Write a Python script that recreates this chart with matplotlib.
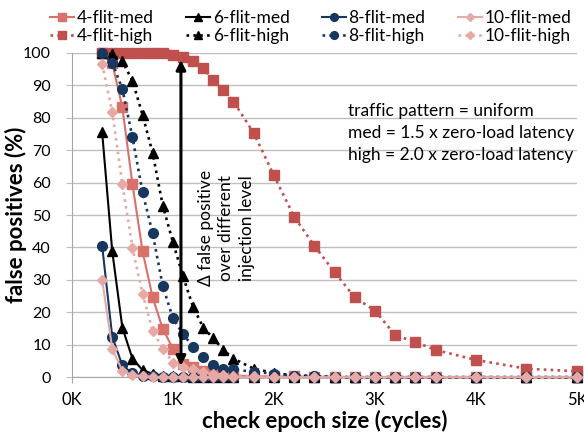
import matplotlib.pyplot as plt
from matplotlib.ticker import FuncFormatter

plt.rcParams['font.family'] = ['Lato', 'DejaVu Sans']

# check epoch size (cycles)
epoch = [300, 400, 500, 600, 700, 800, 900, 1000, 1100, 1200, 1300, 1400, 1500, 1600,
         1800, 2000, 2200, 2400, 2600, 2800, 3000, 3200, 3400, 3600, 4000, 4500, 5000]

# false positives (%)
fp_4_med = [100, 96.9, 83.2, 59.5, 38.8, 24.6, 14.9, 8.8, 3.9, 3.2, 1.9, 1.1, 0.8, 0.5,
            0.3, 0.2, 0.2, 0.1, 0.1, 0, 0, 0, 0, 0, 0, 0, 0]
fp_4_high = [100, 100, 100, 100, 100, 100, 100, 99.3, 98.6, 97.6, 95.3, 91.6, 88.7, 85,
             75.3, 62.2, 49.5, 40.5, 32.4, 24.6, 20.5, 13.0, 10.8, 8.4, 5.3, 2.6, 1.8]
fp_6_med = [75.5, 38.8, 15.3, 5.7, 2.2, 1.0, 0.5, 0.3, 0.2, 0.1, 0, 0, 0, 0,
            0, 0, 0, 0, 0, 0, 0, 0, 0, 0, 0, 0, 0]
fp_6_high = [100, 99.5, 97.4, 91.4, 80.9, 69.1, 52.9, 41.7, 31.1, 21.7, 15.3, 12.0, 8.4, 5.7,
             2.6, 1.3, 0.5, 0.3, 0, 0, 0, 0, 0, 0, 0, 0, 0]
fp_8_med = [40.5, 12.5, 3.6, 1.2, 0.5, 0.2, 0.1, 0, 0, 0, 0, 0, 0, 0,
            0, 0, 0, 0, 0, 0, 0, 0, 0, 0, 0, 0, 0]
fp_8_high = [100, 97, 88.9, 74.0, 57.0, 44.3, 28.1, 18.2, 13.3, 9.4, 6.3, 3.6, 2.6, 2.4,
             1.6, 1.1, 0.5, 0.3, 0, 0, 0, 0, 0, 0, 0, 0, 0]
fp_10_med = [30.1, 8.8, 1.9, 0.7, 0.3, 0.1, 0, 0, 0, 0, 0, 0, 0, 0,
             0, 0, 0, 0, 0, 0, 0, 0, 0, 0, 0, 0, 0]
fp_10_high = [96.6, 81.8, 59.5, 39.9, 25.7, 14.3, 8.8, 4.5, 3.2, 2.4, 1.7, 1.1, 0.8, 0.5,
              0.3, 0.1, 0, 0, 0, 0, 0, 0, 0, 0, 0, 0, 0]

fig = plt.figure(figsize=(5.84, 4.37), dpi=100)
ax = fig.add_axes([0.123, 0.137, 0.865, 0.742])

c4m = '#D9706A'
c4h = '#C0504D'
c6 = '#000000'
c8 = '#17375E'
c10 = '#E6A9A5'

# (label, data, color, marker, size, linestyle)
series = [
    ('4-flit-med', fp_4_med, c4m, 's', 7, '-'),
    ('4-flit-high', fp_4_high, c4h, 's', 7, ':'),
    ('6-flit-med', fp_6_med, c6, '^', 7, '-'),
    ('6-flit-high', fp_6_high, c6, '^', 7, ':'),
    ('8-flit-med', fp_8_med, c8, 'o', 7, '-'),
    ('8-flit-high', fp_8_high, c8, 'o', 7, ':'),
    ('10-flit-med', fp_10_med, c10, 'D', 5.5, '-'),
    ('10-flit-high', fp_10_high, c10, 'D', 5.5, ':'),
]

for label, data, col, mk, ms, ls in series:
    if ls == '-':
        ax.plot(epoch, data, color=col, marker=mk, markersize=ms, linestyle='-',
                linewidth=1.5, label=label, clip_on=False, zorder=3)
    else:
        ax.plot(epoch, data, color=col, marker=mk, markersize=ms, linestyle=(0, (1, 1.6)),
                linewidth=1.9, label=label, clip_on=False, zorder=3)

# double arrow showing the gap between injection levels
ax.annotate('', xy=(1080, 97.8), xytext=(1080, 3.5),
            arrowprops=dict(arrowstyle='<|-|>', color='black', lw=2.2,
                            mutation_scale=14, shrinkA=0, shrinkB=0), zorder=4)
ax.text(1530, 46, 'Δ false positive\nover different\ninjection level',
        rotation=90, ha='center', va='center', fontsize=12.5, linespacing=1.35)

ax.text(2730, 84.5, 'traffic pattern = uniform\nmed = 1.5 x zero-load latency\n'
        'high = 2.0 x zero-load latency', ha='left', va='top', fontsize=12.5,
        linespacing=1.45)

ax.set_xlim(0, 5000)
ax.set_ylim(0, 100)
ax.set_xticks([0, 1000, 2000, 3000, 4000, 5000])
ax.xaxis.set_major_formatter(FuncFormatter(lambda v, p: '%dK' % (v / 1000)))
ax.set_yticks(range(0, 101, 10))
ax.grid(axis='y', color='#BFBFBF', linewidth=1)
ax.set_axisbelow(True)
for s in ['top', 'right']:
    ax.spines[s].set_visible(False)
for s in ['left', 'bottom']:
    ax.spines[s].set_color('#A6A6A6')
ax.tick_params(axis='x', length=4, color='#A6A6A6', labelsize=12, pad=7)
ax.tick_params(axis='y', length=4, color='#BFBFBF', labelsize=11.5, pad=11)

ax.set_xlabel('check epoch size (cycles)', fontsize=16, fontweight='bold', labelpad=1)
ax.set_ylabel('false positives (%)', fontsize=16, fontweight='bold')
ax.yaxis.set_label_coords(-0.088, 0.5)

ax.legend(ncol=4, loc='lower left', bbox_to_anchor=(-0.061, 1.0), frameon=False,
          fontsize=12.5, handlelength=1.4, handletextpad=0.15, columnspacing=1.85,
          labelspacing=0.15, borderaxespad=0.1, markerscale=0.8)

fig.savefig('out.png', dpi=100)
